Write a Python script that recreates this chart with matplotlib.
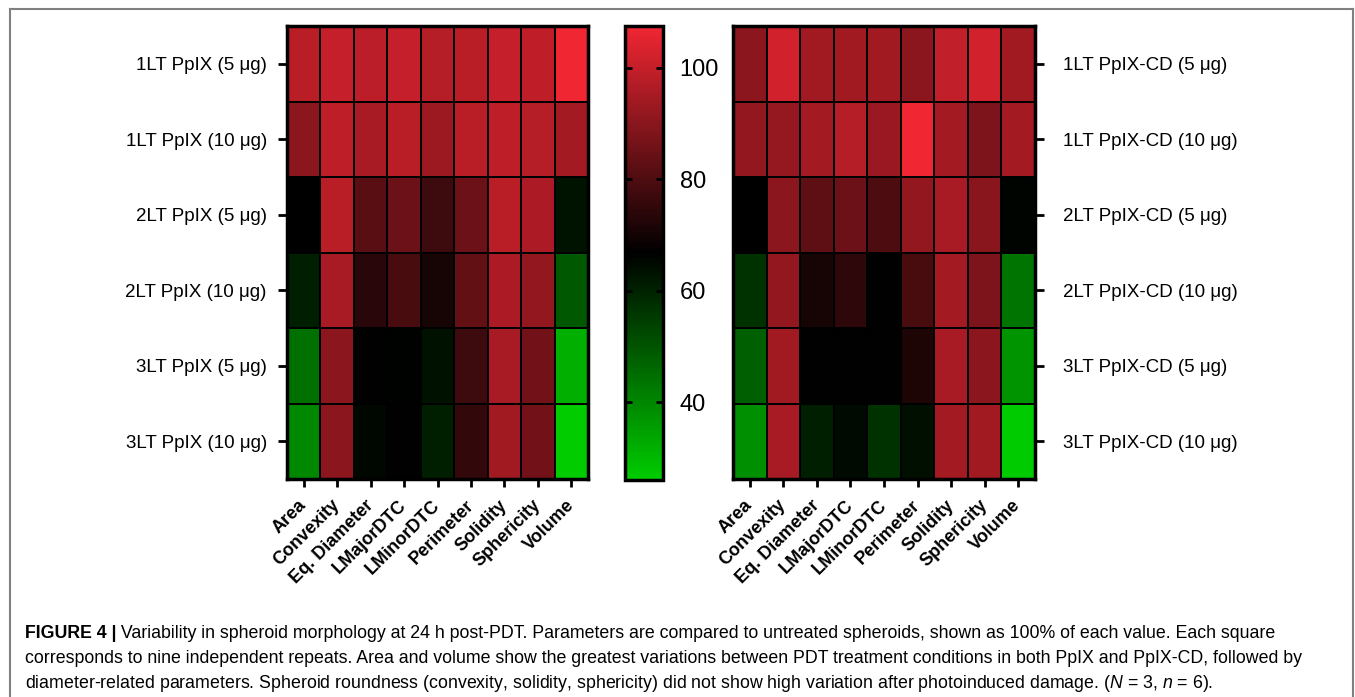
import numpy as np
import matplotlib
matplotlib.use("Agg")
import matplotlib.pyplot as plt
from matplotlib.colors import LinearSegmentedColormap, Normalize
from matplotlib.lines import Line2D

plt.rcParams["font.family"] = ["Liberation Sans", "DejaVu Sans"]
plt.rcParams["mathtext.fontset"] = "custom"
plt.rcParams["mathtext.it"] = "Liberation Sans:italic"
plt.rcParams["mathtext.rm"] = "Liberation Sans"

params = ["Area", "Convexity", "Eq. Diameter", "LMajorDTC", "LMinorDTC",
          "Perimeter", "Solidity", "Sphericity", "Volume"]

ppix_rows = ["1LT PpIX (5 μg)", "1LT PpIX (10 μg)", "2LT PpIX (5 μg)",
             "2LT PpIX (10 μg)", "3LT PpIX (5 μg)", "3LT PpIX (10 μg)"]
cd_rows = ["1LT PpIX-CD (5 μg)", "1LT PpIX-CD (10 μg)", "2LT PpIX-CD (5 μg)",
           "2LT PpIX-CD (10 μg)", "3LT PpIX-CD (5 μg)", "3LT PpIX-CD (10 μg)"]

# % of untreated control, one row per condition
ppix_vals = [
    [98.0, 100.0, 98.4, 100.0, 97.5, 98.0, 100.0, 99.0, 107.2],
    [90.6, 98.7, 95.3, 98.0, 93.3, 98.0, 98.7, 97.4, 94.7],
    [66.8, 98.0, 81.9, 85.2, 77.1, 85.2, 98.0, 96.0, 63.0],
    [60.6, 95.3, 73.5, 79.0, 70.8, 83.6, 96.0, 91.3, 49.2],
    [44.4, 90.6, 66.5, 66.3, 63.5, 77.1, 95.3, 85.9, 31.8],
    [39.6, 90.6, 65.2, 66.6, 60.4, 75.1, 94.0, 85.9, 26.0],
]
cd_vals = [
    [90.6, 102.0, 94.0, 94.0, 94.0, 90.6, 99.4, 102.0, 94.0],
    [91.3, 92.0, 94.7, 97.4, 92.7, 107.2, 94.7, 88.0, 94.7],
    [66.8, 90.6, 82.5, 85.2, 79.8, 91.3, 95.3, 90.0, 66.0],
    [56.6, 91.3, 70.8, 74.4, 66.6, 79.0, 94.7, 88.0, 43.8],
    [47.8, 94.0, 66.5, 66.5, 66.5, 71.7, 95.3, 90.6, 37.4],
    [38.2, 95.3, 60.6, 64.6, 56.6, 63.6, 94.7, 94.0, 26.5],
]
cbar_ticks = [40, 60, 80, 100]

cmap = LinearSegmentedColormap.from_list(
    "gkr", [(0.0, 0.80, 0.0), (0.0, 0.0, 0.0), (0.94, 0.15, 0.20)])
norm = Normalize(vmin=26.0, vmax=107.5)

W, H = 1355, 697
fig = plt.figure(figsize=(W / 100, H / 100), dpi=100)


def px_axes(x0, y0, x1, y1):
    return fig.add_axes([x0 / W, 1 - y1 / H, (x1 - x0) / W, (y1 - y0) / H])


def draw_heatmap(ax, vals, rows, side):
    data = np.array(vals)
    ax.pcolormesh(data, cmap=cmap, norm=norm, edgecolors="black", linewidth=1.3)
    ax.set_xlim(0, len(params))
    ax.set_ylim(len(rows), 0)
    ax.set_xticks(np.arange(len(params)) + 0.5)
    ax.set_xticklabels(params, rotation=45, ha="right", va="center",
                       rotation_mode="anchor", fontsize=13, fontweight="bold")
    ax.set_yticks(np.arange(len(rows)) + 0.5)
    ax.set_yticklabels(rows, fontsize=13.5)
    ax.tick_params(axis="x", length=6, width=2, pad=11)
    if side == "right":
        ax.yaxis.tick_right()
        ax.tick_params(axis="y", length=6.5, width=2, pad=14)
    else:
        ax.tick_params(axis="y", length=6.5, width=2, pad=8)
    for sp in ax.spines.values():
        sp.set_linewidth(2.5)


ax_l = px_axes(287, 26, 588, 479)
draw_heatmap(ax_l, ppix_vals, ppix_rows, "left")

ax_r = px_axes(733, 26, 1035, 479)
draw_heatmap(ax_r, cd_vals, cd_rows, "right")

cax = px_axes(625, 26, 663, 480)
cb = fig.colorbar(plt.cm.ScalarMappable(norm=norm, cmap=cmap), cax=cax,
                  ticks=cbar_ticks)
cb.outline.set_linewidth(2.5)
cax.tick_params(direction="in", left=True, right=True, length=5, width=2,
                labelsize=17, pad=12)

# panel frame
frame = dict(color="#808080", linewidth=1.5, transform=fig.transFigure)
fx0, fx1, fy = 9.5 / W, 1353 / W, 1 - 8.5 / H
fig.add_artist(Line2D([fx0, fx1], [fy, fy], **frame))
fig.add_artist(Line2D([fx0, fx0], [0, fy], **frame))
fig.add_artist(Line2D([fx1, fx1], [0, fy], **frame))

# caption
cap_x = 25 / W
cap_fs = 12.8
head = fig.text(cap_x, 1 - 638 / H, "FIGURE 4 |", fontsize=cap_fs,
                fontweight="bold", va="baseline")
plt.annotate(" Variability in spheroid morphology at 24 h post-PDT. Parameters are "
             "compared to untreated spheroids, shown as 100% of each value. Each square",
             xy=(1, 0), xycoords=head, va="bottom", fontsize=cap_fs)
fig.text(cap_x, 1 - 663 / H,
         "corresponds to nine independent repeats. Area and volume show the greatest "
         "variations between PDT treatment conditions in both PpIX and PpIX-CD, followed by",
         fontsize=cap_fs, va="baseline")
fig.text(cap_x, 1 - 688 / H,
         "diameter-related parameters. Spheroid roundness (convexity, solidity, sphericity) "
         "did not show high variation after photoinduced damage. ($N$ = 3, $n$ = 6).",
         fontsize=cap_fs, va="baseline")

fig.savefig("out.png", dpi=100)
